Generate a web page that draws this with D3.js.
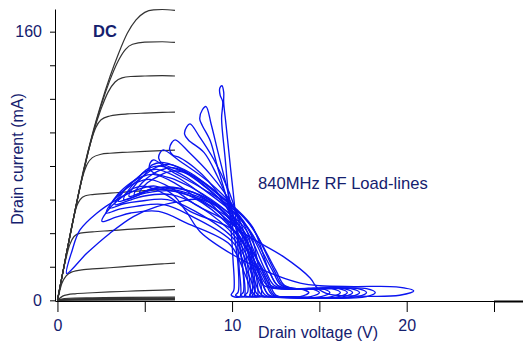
<!DOCTYPE html>
<html>
<head>
<meta charset="utf-8">
<script src="https://cdn.jsdelivr.net/npm/d3@7"></script>
<style>
  html, body { margin: 0; padding: 0; background: #fff; }
  svg { display: block; font-family: "Liberation Sans", Arial, sans-serif; }
</style>
</head>
<body>
<svg id="chart" width="523" height="342"></svg>
<script>
// axis ticks
const xTicks = [0, 5, 10, 15, 20, 25];
const xTickLabels = [0, 10, 20];
const yTicks = [0, 20, 40, 60, 80, 100, 120, 140, 160];
const yTickLabels = [0, 160];

// DC output curves, [drain voltage V, drain current mA]
const dcCurves = [
  [[0,0],[0.5,27],[1,53],[1.5,78],[2,99],[2.5,117],[3,133],[3.5,147],[4,159],[4.5,167],[5,171.5],[5.5,173],[6,173.2],[6.73,172.7]],
  [[0,0],[0.5,27],[1,53],[1.5,77],[2,98],[2.5,116],[3,131],[3.5,143],[3.9,149.5],[4.3,152.5],[5,153.8],[6,154],[6.73,153.6]],
  [[0,0],[0.5,27],[1,53],[1.5,77],[2,98],[2.5,114],[2.9,124],[3.3,130],[3.7,132.5],[4.2,133.3],[5,133.6],[6,133.8],[6.73,133.6]],
  [[0,0],[0.5,27],[1,53],[1.5,77],[1.9,94],[2.2,103],[2.5,107.5],[3,109.8],[3.5,110.6],[4,111],[5,111.5],[6,111.9],[6.73,112.1]],
  [[0,0],[0.5,27],[1,53],[1.4,72],[1.7,81],[2,85],[2.5,87],[3,87.6],[4,88.2],[5,88.7],[6,89.1],[6.73,89.4]],
  [[0,0],[0.5,27],[0.9,48],[1.1,56],[1.3,60],[1.6,62.3],[2,63],[3,63.8],[4,64.6],[5,65.3],[6,66],[6.73,66.6]],
  [[0,0],[0.4,21],[0.7,33],[0.95,38],[1.3,40],[2,40.8],[3,41.5],[4,42.2],[5,42.9],[6,43.6],[6.73,44.1]],
  [[0,0],[0.25,10],[0.5,14.5],[0.8,16.8],[1.5,18.3],[2,18.7],[3,19.4],[4,20.2],[5,21],[6,21.7],[6.73,22.2]],
  [[0,0],[0.3,2.5],[0.6,3.4],[1,3.9],[2,4.5],[3,5],[4,5.4],[5,5.8],[6,6.1],[6.73,6.4]],
  [[0,0],[0.4,1.1],[1,1.4],[2,1.5],[4,1.7],[6.73,1.9]],
  [[0,0],[0.5,0.7],[1,0.9],[2,1.0],[4,1.2],[6.73,1.4]],
  [[0,0],[0.5,0.5],[2,0.7],[4,0.85],[6.73,1.0]],
  [[0,0],[0.5,0.3],[2,0.4],[4,0.5],[6.73,0.6]],
  [[0,0],[1,0.1],[6.73,0.2]]
];

// 840 MHz RF load-line loops, [drain voltage V, drain current mA]
const rfLoops = [
  // widest swing
  [[0.53,16],[0.85,30],[1.29,41.9],[2.25,51.9],[3.4,60],[4.6,66],[5.6,68],[6.6,63],[7.4,52.5],[8.17,40.9],[10.07,27],[11.99,17.1],[13.9,10.3],[15.04,8.7],[17,8.2],[19.4,8.0],[20.4,5.6],[19.6,3.0],[17,2.6],[15.6,3.5],[14.9,7],[14.47,13.3],[12.94,26],[10.65,40],[8.17,59.8],[7.02,58.8],[5.69,55.8],[4.35,49.9],[3.01,40],[1.68,28]],
  // main bundle
  [[2.55,47],[3.0,55],[3.75,62],[4.3,66.5],[5.0,68],[6.2,63],[7.6,53],[10.3,40],[11.3,18],[11.8,9],[12.7,6.8],[15.1,7],[15.6,4.6],[15.1,2.2],[12.3,2],[11.3,3.2],[10.8,14],[9.9,33],[7.4,46],[5.8,53],[4.2,52],[3.35,49.5]],
  [[2.8,52],[3.25,60],[4.0,67],[4.6,70.5],[5.3,72],[6.5,67],[7.9,57],[10.45,41.5],[11.5,18],[12.0,9],[12.9,6.8],[15.7,7],[16.2,4.6],[15.7,2.2],[12.5,2],[11.5,3.2],[11.0,14],[10.05,34.5],[7.7,50],[6.1,57],[4.5,56],[3.6,54.5]],
  [[3.0,55],[3.45,63],[4.2,70],[4.8,73.5],[5.5,75],[6.7,70],[8.1,60],[10.55,43],[11.7,18],[12.2,9],[13.1,6.8],[16.1,7],[16.6,4.6],[16.1,2.2],[12.7,2],[11.7,3.2],[11.2,14],[10.15,36],[7.9,53],[6.3,60],[4.7,59],[3.8,57.5]],
  [[3.3,57],[3.75,65],[4.5,72],[5.0,76.5],[5.7,78],[6.9,73],[8.3,63],[10.65,44],[11.9,18],[12.4,9],[13.3,6.8],[16.4,7],[16.9,4.6],[16.4,2.2],[12.9,2],[11.9,3.2],[11.4,14],[10.25,37],[8.1,56],[6.5,63],[4.9,62],[4.1,59.5]],
  [[3.5,59],[3.95,67],[4.7,74],[5.2,78.5],[5.9,80],[7.1,75],[8.5,65],[10.75,45],[12.1,18],[12.6,9],[13.5,6.8],[16.8,7],[17.3,4.6],[16.8,2.2],[13.1,2],[12.1,3.2],[11.6,14],[10.35,38],[8.3,58],[6.7,65],[5.1,64],[4.3,61.5]],
  [[3.8,60],[4.25,68],[5.0,75],[5.4,80.5],[6.1,82],[7.3,77],[8.7,66],[10.85,44],[12.3,18],[12.8,9],[13.7,6.8],[17.2,7],[17.7,4.6],[17.2,2.2],[13.3,2],[12.3,3.2],[11.8,14],[10.45,37],[8.5,60],[6.9,67],[5.3,66],[4.6,62.5]],
  [[4.1,62],[4.55,70],[5.3,77],[5.7,79.5],[6.4,81],[7.6,76],[9.0,65],[10.95,46],[12.5,18],[13.0,9],[13.9,6.8],[17.7,7],[18.2,4.6],[17.7,2.2],[13.5,2],[12.5,3.2],[12.0,14],[10.55,39],[8.8,59],[7.2,66],[5.6,67],[4.9,64.5]],
  [[4.4,63],[4.85,70],[5.5,75.5],[5.9,77.5],[6.6,79],[7.8,74],[9.2,63],[11.05,45],[12.4,18],[12.9,9],[13.8,6.8],[14.5,7],[15.0,4.6],[14.5,2.2],[13.4,2],[12.4,3.2],[11.9,14],[10.65,38],[9.0,57],[7.4,64],[5.8,67],[5.2,65.5]],
  [[4.7,64],[5.15,70],[5.8,74],[6.2,76],[6.9,77],[8.1,72],[9.5,61],[11.15,44],[12.1,18],[12.6,9],[13.3,6.8],[13.9,6.8],[14.4,4.6],[13.9,2.2],[13.1,2],[12.1,3.2],[11.6,14],[10.75,37],[9.3,55],[7.7,62],[6.1,66],[5.5,66]],
  // narrow high-current loops with hooked tops
  [[10.45,2.2],[10.4,20],[10.2,50],[9.9,80],[9.65,105],[9.52,118],[9.52,124],[9.42,127.8],[9.3,126.5],[9.32,122],[9.46,118.5],[9.4,108],[9.6,85],[9.85,55],[10.05,25],[10.1,6],[9.95,3.2],[10.15,2.0]],
  [[10.7,2.4],[10.6,20],[10.25,42],[9.75,65],[9.2,88],[8.8,105],[8.51,115.4],[8.3,113.5],[8.15,108],[8.3,104],[8.75,95],[9.15,80],[9.65,62],[10.1,40],[10.35,20],[10.35,5],[10.2,3.0],[10.45,2.0]],
  [[11.0,2.4],[10.9,20],[10.5,42],[9.85,64],[8.95,84],[8.1,98],[7.59,105.1],[7.4,103.3],[7.28,99],[7.5,95.5],[8.4,88],[9.15,74],[9.85,57],[10.35,38],[10.6,20],[10.65,5],[10.5,3.0],[10.75,2.0]],
  [[11.25,2.4],[11.1,20],[10.7,40],[9.95,58],[8.75,75],[7.55,88],[6.74,95.6],[6.55,94],[6.42,90],[6.6,86.5],[7.0,85],[7.85,79],[8.65,71],[9.55,58],[10.35,40],[10.75,22],[10.9,5],[10.75,3.0],[11.0,2.0]],
  [[11.45,2.4],[11.3,20],[10.9,40],[10.05,56],[8.6,71],[7.0,83],[6.06,89.6],[5.88,88],[5.8,84.5],[6.0,81.5],[7.3,76],[8.4,68],[9.75,55],[10.65,38],[11.05,20],[11.15,5],[11.0,3.0],[11.25,2.0]],
  [[11.65,2.4],[11.5,20],[11.05,40],[10.1,54],[8.4,66],[6.5,77],[5.49,83.6],[5.32,82],[5.27,78.5],[5.5,76],[6.7,72],[8.3,63.5],[9.85,51.5],[10.8,38],[11.2,20],[11.3,5],[11.15,3.0],[11.4,2.0]]
];

const NAVY = '#14206e';
const FONT = '"Liberation Sans", Arial, sans-serif';

const svg = d3.select('#chart');
const x = d3.scaleLinear().domain([-0.14, 26.66]).range([55, 523]);
const y = d3.scaleLinear().domain([-0.4, 173.5]).range([301, 9]);

// DC curves
let dcLine = d3.line()
  .x((d) => x(d[0]))
  .y((d) => y(d[1]))
  .curve(d3.curveMonotoneX);

svg.append('g')
  .selectAll('path')
  .data(dcCurves)
  .enter()
  .append('path')
    .attr('d', dcLine)
    .attr('fill', 'none')
    .attr('stroke', '#333')
    .attr('stroke-width', 1.2);

// RF loops
let rfLine = d3.line()
  .x((d) => x(d[0]))
  .y((d) => y(d[1]))
  .curve(d3.curveCatmullRomClosed.alpha(0.5));

svg.append('g')
  .selectAll('path')
  .data(rfLoops)
  .enter()
  .append('path')
    .attr('d', rfLine)
    .attr('fill', 'none')
    .attr('stroke', '#0a14f0')
    .attr('stroke-width', 1.35);

// x axis
let xAxis = svg.append('g')
  .attr('transform', `translate(0,${y(-0.4)})`)
  .call(d3.axisBottom(x)
    .tickValues(xTicks)
    .tickSize(11)
    .tickSizeOuter(0)
    .tickPadding(8)
    .tickFormat((d) => xTickLabels.includes(d) ? d : ''));

// the last stretch of the axis is drawn heavier in the original
svg.append('line')
  .attr('x1', x(25)).attr('x2', 523)
  .attr('y1', y(-0.4) + 0.5).attr('y2', y(-0.4) + 0.5)
  .attr('stroke', '#000')
  .attr('stroke-width', 2);

// y axis
let yAxis = svg.append('g')
  .attr('transform', `translate(${x(-0.14)},0)`)
  .call(d3.axisLeft(y)
    .tickValues(yTicks)
    .tickSize(5)
    .tickSizeOuter(0)
    .tickPadding(8)
    .tickFormat((d) => yTickLabels.includes(d) ? d : ''));

[xAxis, yAxis].forEach((g) => {
  g.select('.domain').attr('stroke', '#000');
  g.selectAll('.tick line').attr('stroke', '#000');
  g.selectAll('.tick text')
    .attr('fill', NAVY)
    .style('font-size', '16px')
    .style('font-family', FONT);
});

// titles and notes
svg.append('text')
  .attr('x', 258).attr('y', 338)
  .attr('fill', NAVY)
  .style('font-size', '16px')
  .text('Drain voltage (V)');

svg.append('text')
  .attr('transform', 'translate(22.5,159)rotate(-90)')
  .attr('text-anchor', 'middle')
  .attr('fill', NAVY)
  .style('font-size', '16px')
  .text('Drain current (mA)');

svg.append('text')
  .attr('x', 93).attr('y', 36.5)
  .attr('fill', NAVY)
  .style('font-size', '16.5px')
  .style('font-weight', 'bold')
  .text('DC');

svg.append('text')
  .attr('x', 258).attr('y', 189)
  .attr('fill', NAVY)
  .style('font-size', '16.6px')
  .text('840MHz RF Load-lines');
</script>
</body>
</html>
